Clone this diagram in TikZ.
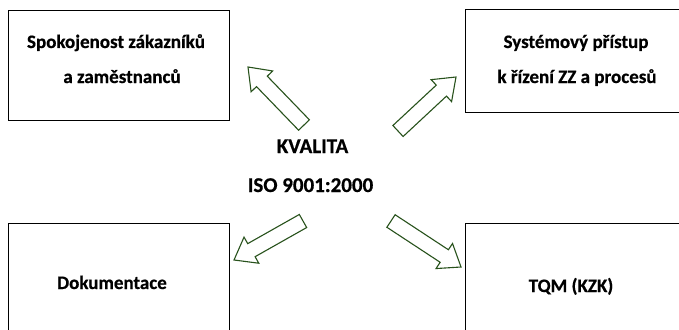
\documentclass[tikz,border=0pt]{standalone}
\usepackage{fontspec}
\setmainfont{Carlito}[BoldFeatures={FakeBold=0.6}]
\usetikzlibrary{calc}
\definecolor{arrowgreen}{RGB}{40,82,28}

% hollow block arrow from a tail coordinate to a tip coordinate
\newcommand{\hollowarrow}[2]{%
  \coordinate (hb) at ($(#2)!20pt!(#1)$);
  \draw[blockarrow]
    ($(#1)!7.5pt!90:(#2)$) -- ($(hb)!7.5pt!-90:(#1)$) -- ($(hb)!15pt!-90:(#1)$)
    -- (#2) -- ($(hb)!15pt!90:(#1)$) -- ($(hb)!7.5pt!90:(#1)$)
    -- ($(#1)!7.5pt!-90:(#2)$) -- cycle;}

\begin{document}
\begin{tikzpicture}[x=1pt,y=-1pt,
  box/.style={draw=black, line width=1pt, minimum width=221pt, anchor=north west, inner sep=0pt},
  label/.style={font=\fontsize{19}{23}\selectfont\bfseries, inner sep=0pt, anchor=base},
  biglabel/.style={label, font=\fontsize{21}{25}\selectfont\bfseries},
  blockarrow/.style={draw=arrowgreen, line width=1.1pt, fill=white, line join=miter}]
\useasboundingbox (0,0) rectangle (679,329);
\clip (0,0) rectangle (679,329);

% boxes
\node[box, minimum height=110pt] (spok) at (8,10) {};
\node[box, minimum height=102.5pt, minimum width=230pt] (syst) at (465,9.5) {};
\node[box, minimum height=120pt] (doku) at (8,223) {};
\node[box, minimum height=120pt, minimum width=230pt] (tqm) at (465,223) {};

% box texts
\node[label] (spok1) at (116,48) {Spokojenost zákazníků};
\node[label] (spok2) at (122,83) {a zaměstnanců};
\node[label] (syst1) at (576,48) {Systémový přístup};
\node[label] (syst2) at (577,83) {k řízení ZZ a procesů};
\node[label] (doku1) at (112,289) {Dokumentace};
\node[label] (tqm1) at (571,292) {TQM (KZK)};

% centre
\node[biglabel] (kval) at (312.5,153) {KVALITA};
\node[biglabel] (iso) at (310.5,192) {ISO 9001:2000};

% arrow ends
\coordinate (t1) at (304,125); \coordinate (p1) at (248,67);
\coordinate (t2) at (398,131); \coordinate (p2) at (456,77);
\coordinate (t3) at (303,221); \coordinate (p3) at (234,260);
\coordinate (t4) at (391,221); \coordinate (p4) at (461,267);

\hollowarrow{t1}{p1}
\hollowarrow{t2}{p2}
\hollowarrow{t3}{p3}
\hollowarrow{t4}{p4}
\end{tikzpicture}
\end{document}
